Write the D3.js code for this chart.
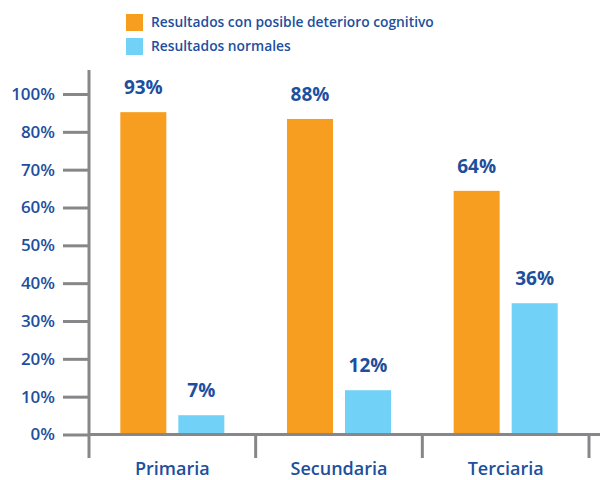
<!DOCTYPE html>
<html>
<head>
<meta charset="utf-8">
<script src="https://cdn.jsdelivr.net/npm/d3@7"></script>
<style>
  html, body { margin: 0; padding: 0; background: #fff; }
  svg { display: block; }
  text { font-family: "Open Sans", sans-serif; }
</style>
</head>
<body>
<svg id="chart" width="600" height="480"></svg>
<script>
const categories = ["Primaria", "Secundaria", "Terciaria"];
const seriesNames = ["Resultados con posible deterioro cognitivo", "Resultados normales"];
// bar heights as drawn (in % units of the axis)
const deterioroValues = [85.2, 83.4, 64.4];
const normalesValues = [5.1, 11.7, 34.7];
// value labels printed above the bars
const deterioroLabels = ["93%", "88%", "64%"];
const normalesLabels = ["7%", "12%", "36%"];
// y axis ticks and their printed labels
const tickValues = [0, 10, 20, 30, 40, 50, 60, 70, 80, 90];
const tickLabels = ["0%", "10%", "20%", "30%", "40%", "50%", "60%", "70%", "80%", "100%"];

const colors = ["#f79d1f", "#72d1f6"];
const textColor = "#1d4f9e";
const axisColor = "#87878a";

const svg = d3.select("#chart");

const x0 = d3.scaleBand().domain(categories).range([89, 589]).paddingInner(0).paddingOuter(0);
const x1 = d3.scaleBand().domain(seriesNames).range([0, x0.bandwidth()]).paddingInner(0.207).paddingOuter(0.54);
const y = d3.scaleLinear().domain([0, 90]).range([434.5, 94]);

const data = categories.map((c, i) => ({
  cat: c,
  vals: [
    { s: seriesNames[0], v: deterioroValues[i], label: deterioroLabels[i], color: colors[0] },
    { s: seriesNames[1], v: normalesValues[i], label: normalesLabels[i], color: colors[1] }
  ]
}));

// bars
const groups = svg.append("g").selectAll("g").data(data).join("g")
  .attr("transform", d => `translate(${x0(d.cat)},0)`);
groups.selectAll("rect").data(d => d.vals).join("rect")
  .attr("x", d => x1(d.s))
  .attr("width", x1.bandwidth())
  .attr("y", d => y(d.v))
  .attr("height", d => y(0) - y(d.v))
  .attr("fill", d => d.color);
groups.selectAll("text").data(d => d.vals).join("text")
  .attr("x", d => x1(d.s) + x1.bandwidth() / 2)
  .attr("y", d => y(d.v) - 18)
  .attr("text-anchor", "middle")
  .attr("fill", textColor)
  .attr("font-size", 19)
  .attr("font-weight", 700)
  .text(d => d.label);

// y axis
const yAxis = d3.axisLeft(y).tickValues(tickValues)
  .tickFormat((d, i) => tickLabels[i]).tickSize(26).tickPadding(8).tickSizeOuter(0);
const gy = svg.append("g").attr("transform", "translate(89,0)").call(yAxis);
gy.select(".domain").remove();
gy.selectAll(".tick line").attr("stroke", axisColor).attr("stroke-width", 3);
gy.selectAll(".tick text").attr("fill", textColor).attr("font-size", 17).attr("font-weight", 600)
  .style("font-family", "'Open Sans', sans-serif");

// x axis
const xAxis = d3.axisBottom(x0).tickSize(0).tickPadding(28).tickSizeOuter(0);
const gx = svg.append("g").attr("transform", `translate(0,${y(0)})`).call(xAxis);
gx.select(".domain").remove();
gx.selectAll(".tick text").attr("fill", textColor).attr("font-size", 18).attr("font-weight", 600)
  .style("font-family", "'Open Sans', sans-serif");

// axis lines
svg.append("line").attr("x1", 89).attr("x2", 600).attr("y1", y(0)).attr("y2", y(0))
  .attr("stroke", axisColor).attr("stroke-width", 3);
svg.append("line").attr("x1", 89).attr("x2", 89).attr("y1", 70).attr("y2", 458)
  .attr("stroke", axisColor).attr("stroke-width", 3);
svg.append("g").selectAll("line").data(categories).join("line")
  .attr("x1", d => x0(d) + x0.bandwidth()).attr("x2", d => x0(d) + x0.bandwidth())
  .attr("y1", y(0)).attr("y2", 458)
  .attr("stroke", axisColor).attr("stroke-width", 3);

// legend
const legend = svg.append("g").attr("transform", "translate(126,14)");
const li = legend.selectAll("g").data(seriesNames).join("g")
  .attr("transform", (d, i) => `translate(0,${i * 24})`);
li.append("rect").attr("width", 17).attr("height", 17).attr("fill", (d, i) => colors[i]);
li.append("text").attr("x", 25).attr("y", 8.5).attr("dy", "0.35em")
  .attr("fill", textColor).attr("font-size", 13.8).attr("font-weight", 600)
  .text(d => d);
</script>
</body>
</html>
